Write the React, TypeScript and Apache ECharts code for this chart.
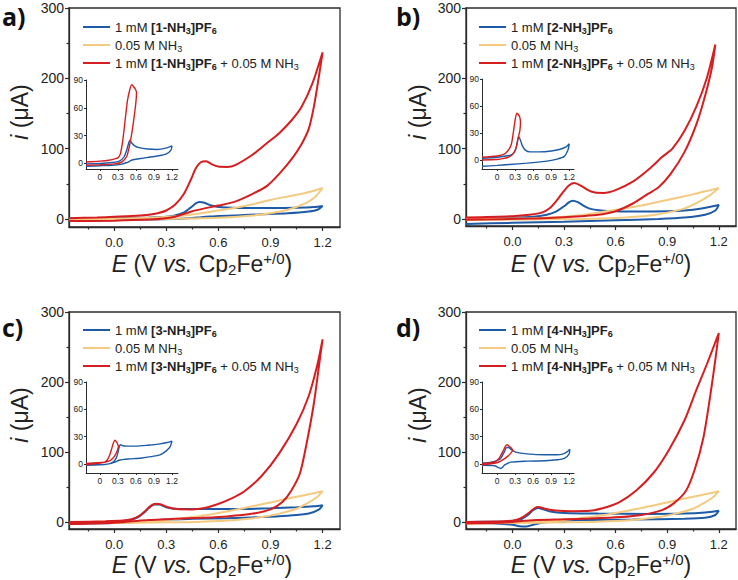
import React, { useEffect, useRef } from 'react';
import * as echarts from 'echarts';

type Pt = [number, number];

const BLUE = '#1e5ba6';
const YELLOW = '#f4ca80';
const RED = '#d61e20';
const AXIS = '#2b2b2b';
const TEXT = '#222222';
const FONT = "'Liberation Sans', Arial, Helvetica, sans-serif";

// Tick positions
const mainXTicks = [0, 0.3, 0.6, 0.9, 1.2];
const mainXMinor = [-0.15, 0.15, 0.45, 0.75, 1.05];
const mainYTicks = [0, 100, 200, 300];
const mainYMinor = [50, 150, 250];
const insetXTicks = [0, 0.3, 0.6, 0.9, 1.2];
const insetYTicks = [0, 30, 60, 90];

const compounds = ['1', '2', '3', '4'];
const panelLetters = ['a)', 'b)', 'c)', 'd)'];

// ---- Cyclic voltammograms: [E (V), i (µA)], anodic sweep then return sweep ----

// [1-NH3]PF6
const cv1Blue: Pt[] = [
  [-0.26, 0.5], [-0.1, 1], [0.1, 1.5], [0.2, 2], [0.3, 3], [0.35, 5], [0.4, 9], [0.44, 16],
  [0.47, 22], [0.49, 24], [0.52, 23], [0.56, 19], [0.62, 16.5], [0.75, 15.5], [0.9, 15.5],
  [1.05, 16], [1.15, 17], [1.2, 18.5],
  [1.17, 13], [1.12, 10.5], [1.0, 8], [0.85, 6.5], [0.7, 5], [0.6, 4], [0.55, 3.5], [0.5, 2.5],
  [0.45, 1.2], [0.35, 0], [0.2, -0.8], [0, -1.5], [-0.26, -2.5],
];
const cv1Yellow: Pt[] = [
  [-0.26, -1.5], [0, -1], [0.2, -0.5], [0.4, 0.5], [0.6, 1.5], [0.8, 5], [0.9, 8], [1.0, 13],
  [1.1, 22], [1.16, 32], [1.2, 44],
  [1.15, 40], [1.1, 37], [1.0, 32], [0.9, 27], [0.8, 21], [0.7, 16], [0.6, 12], [0.5, 8],
  [0.4, 5], [0.3, 3], [0.2, 1.5], [0, 0.5], [-0.26, 0],
];
const cv1Red: Pt[] = [
  [-0.26, 1], [-0.1, 2], [0, 3], [0.1, 4], [0.2, 6], [0.25, 8], [0.3, 12], [0.35, 20],
  [0.4, 35], [0.44, 55], [0.47, 72], [0.5, 81], [0.53, 82], [0.56, 78], [0.6, 74.5],
  [0.65, 74], [0.7, 77], [0.8, 92], [0.88, 108], [0.95, 122], [1.02, 140], [1.08, 160],
  [1.14, 192], [1.2, 237],
  [1.18, 205], [1.15, 160], [1.12, 128], [1.08, 107], [1.03, 88], [0.95, 64], [0.88, 47],
  [0.8, 36], [0.7, 25], [0.6, 19], [0.52, 15], [0.45, 11], [0.4, 7], [0.35, 3], [0.3, 1],
  [0.2, -1], [0, -2.5], [-0.26, -3],
];
const cv1InsetBlue: Pt[] = [
  [-0.23, -0.5], [0, 0], [0.2, 1], [0.3, 2], [0.36, 4], [0.41, 8], [0.45, 15], [0.48, 22],
  [0.5, 25], [0.53, 22], [0.58, 19], [0.65, 17], [0.8, 15.5], [0.95, 15], [1.1, 16.5], [1.2, 19],
  [1.18, 14], [1.1, 10], [0.95, 8], [0.8, 6.5], [0.65, 5], [0.55, 4], [0.5, 2.5], [0.45, 1],
  [0.35, -1], [0.2, -2], [0, -2.5], [-0.23, -3],
];
const cv1InsetRed: Pt[] = [
  [-0.23, 1.5], [0, 2.5], [0.15, 3.5], [0.25, 5], [0.3, 6], [0.34, 10], [0.38, 24], [0.42, 46],
  [0.46, 68], [0.5, 80], [0.53, 85], [0.56, 83], [0.6, 79], [0.61, 76],
  [0.6, 66], [0.57, 50], [0.53, 32], [0.49, 18], [0.45, 8], [0.4, 3.5], [0.35, 1], [0.25, -0.5],
  [0, -1.5], [-0.23, -2],
];

// [2-NH3]PF6
const cv2Blue: Pt[] = [
  [-0.27, 0], [0, 1.5], [0.12, 3], [0.2, 6], [0.25, 10], [0.3, 18], [0.33, 24], [0.35, 26],
  [0.38, 24], [0.42, 18], [0.46, 14], [0.5, 12.5], [0.6, 11], [0.75, 10.5], [0.9, 11],
  [1.0, 12], [1.1, 15], [1.2, 20],
  [1.18, 12], [1.12, 6], [1.0, 2], [0.85, 0], [0.6, -2], [0.3, -4], [0, -5.5], [-0.27, -7],
];
const cv2Yellow: Pt[] = [
  [-0.27, -1.5], [0, -1], [0.2, -0.5], [0.4, 0], [0.6, 1.5], [0.8, 5], [0.9, 9], [1.0, 15],
  [1.08, 24], [1.15, 34], [1.2, 44],
  [1.15, 41], [1.05, 35], [0.9, 27], [0.75, 19], [0.6, 13], [0.45, 7], [0.3, 3], [0.1, 1],
  [-0.27, 0],
];
const cv2Red: Pt[] = [
  [-0.27, 2], [0, 4], [0.1, 6], [0.17, 9], [0.22, 16], [0.26, 27], [0.3, 40], [0.33, 48],
  [0.36, 51], [0.4, 47], [0.44, 41], [0.48, 37.5], [0.53, 37], [0.6, 41], [0.7, 53],
  [0.79, 70], [0.87, 88], [0.93, 100], [1.0, 125], [1.07, 160], [1.13, 200], [1.18, 248],
  [1.16, 215], [1.12, 175], [1.07, 135], [1.0, 95], [0.92, 64], [0.85, 45], [0.79, 36],
  [0.7, 22], [0.6, 11], [0.5, 6], [0.4, 4], [0.3, 2.5], [0.1, 0.5], [-0.27, -1],
];
const cv2InsetBlue: Pt[] = [
  [-0.25, 2], [0, 3], [0.15, 4.5], [0.25, 6], [0.31, 12], [0.34, 21], [0.36, 26], [0.39, 22],
  [0.42, 16], [0.47, 11], [0.55, 9], [0.7, 9], [0.9, 10], [1.05, 12], [1.15, 14.5], [1.2, 18],
  [1.18, 11], [1.12, 4], [1.0, 1], [0.8, -1.5], [0.5, -3.5], [0.2, -5], [0, -6], [-0.25, -7],
];
const cv2InsetRed: Pt[] = [
  [-0.25, 3], [0, 4.5], [0.1, 6], [0.15, 8], [0.2, 12], [0.24, 18], [0.27, 30], [0.3, 44],
  [0.33, 52], [0.36, 50], [0.38, 47], [0.39, 42],
  [0.38, 33], [0.35, 24], [0.32, 14], [0.28, 8], [0.2, 3.5], [0.1, 1.5], [0, 0.5], [-0.25, 0],
];

// [3-NH3]PF6
const cv3Blue: Pt[] = [
  [-0.26, -1.5], [0, 0], [0.08, 2], [0.13, 6], [0.17, 13], [0.2, 20], [0.23, 25], [0.26, 25],
  [0.3, 21], [0.35, 19], [0.5, 18.5], [0.7, 18.5], [0.9, 19.5], [1.05, 21], [1.15, 22.5],
  [1.2, 24],
  [1.18, 18], [1.12, 12], [1.0, 9], [0.85, 7], [0.65, 5.5], [0.45, 4.5], [0.3, 3.5],
  [0.22, 2], [0.15, 0.5], [0, -1.5], [-0.26, -2.5],
];
const cv3Yellow: Pt[] = [
  [-0.26, -2], [0, -1.5], [0.3, -0.5], [0.5, 0.5], [0.7, 3], [0.85, 7], [0.95, 12], [1.05, 19],
  [1.12, 28], [1.17, 36], [1.2, 44],
  [1.15, 41], [1.05, 36], [0.9, 28], [0.75, 20], [0.6, 13], [0.45, 7], [0.3, 3], [0.1, 0.5],
  [-0.26, -1],
];
const cv3Red: Pt[] = [
  [-0.26, 0], [-0.05, 1], [0.05, 2], [0.1, 4], [0.14, 8], [0.18, 16], [0.21, 23], [0.24, 26],
  [0.27, 25], [0.31, 21], [0.36, 18.5], [0.45, 18], [0.52, 20], [0.59, 25], [0.67, 33],
  [0.75, 44], [0.85, 66], [0.95, 98], [1.05, 140], [1.12, 180], [1.17, 225], [1.2, 261],
  [1.18, 225], [1.15, 170], [1.11, 115], [1.07, 70], [1.02, 45], [0.97, 29], [0.9, 18],
  [0.8, 12], [0.65, 8], [0.5, 6], [0.35, 4.5], [0.2, 3], [0.1, 1], [0, -1], [-0.26, -3],
];
const cv3InsetBlue: Pt[] = [
  [-0.23, -1], [0, -1], [0.15, 0], [0.22, 2], [0.27, 6], [0.3, 12], [0.32, 18], [0.34, 21],
  [0.38, 20], [0.45, 19.5], [0.6, 19.5], [0.8, 20.5], [1.0, 22], [1.12, 23.5], [1.2, 25],
  [1.17, 19], [1.1, 14], [1.0, 10], [0.85, 8], [0.7, 6.5], [0.5, 5.5], [0.4, 5], [0.32, 4],
  [0.25, 2], [0.15, 0], [0, -1], [-0.23, -1.5],
];
const cv3InsetRed: Pt[] = [
  [-0.23, 0.5], [0, 1.5], [0.08, 2], [0.12, 4], [0.16, 9], [0.19, 15], [0.22, 22], [0.25, 26],
  [0.28, 24], [0.3, 21], [0.31, 19],
  [0.28, 13], [0.25, 9], [0.2, 5], [0.15, 3], [0.05, 1.5], [-0.1, 0], [-0.23, -1],
];

// [4-NH3]PF6
const cv4Blue: Pt[] = [
  [-0.27, 0], [-0.1, 0.5], [0, 1.5], [0.05, 4], [0.09, 10], [0.12, 17], [0.15, 20], [0.18, 18],
  [0.22, 15], [0.3, 13], [0.5, 12], [0.8, 11.5], [1.0, 12], [1.12, 13.5], [1.2, 16],
  [1.18, 10], [1.12, 6], [1.0, 4.5], [0.7, 3.5], [0.4, 3], [0.25, 1.5], [0.17, -1], [0.12, -4],
  [0.08, -6.5], [0.04, -6], [0, -4], [-0.1, -2], [-0.27, -1],
];
const cv4Yellow: Pt[] = [
  [-0.27, -2], [0, -1.5], [0.3, -0.5], [0.5, 0.5], [0.7, 3], [0.85, 7], [0.95, 12], [1.05, 19],
  [1.12, 28], [1.17, 36], [1.2, 44],
  [1.15, 41], [1.05, 36], [0.9, 28], [0.75, 20], [0.6, 13], [0.45, 7], [0.3, 3], [0.1, 0.5],
  [-0.27, -1],
];
const cv4Red: Pt[] = [
  [-0.27, 0], [-0.05, 1], [0.02, 3], [0.06, 7], [0.1, 14], [0.13, 20], [0.15, 21.5],
  [0.19, 19], [0.25, 16.5], [0.35, 15.5], [0.45, 16], [0.53, 20], [0.62, 28], [0.72, 45],
  [0.82, 70], [0.91, 103], [1.0, 145], [1.07, 189], [1.13, 225], [1.2, 270],
  [1.18, 232], [1.15, 180], [1.11, 120], [1.06, 75], [1.01, 45], [0.94, 27], [0.87, 17],
  [0.75, 10], [0.63, 7], [0.45, 5], [0.3, 4], [0.14, 3], [0.05, 1.5], [0, 0], [-0.1, -1.5],
  [-0.27, -2],
];
const cv4InsetBlue: Pt[] = [
  [-0.25, 1], [-0.1, 2], [0, 3.5], [0.06, 6], [0.12, 13], [0.16, 18], [0.19, 18], [0.23, 16],
  [0.31, 13], [0.5, 11], [0.8, 10], [1.0, 10], [1.1, 11], [1.17, 13.5], [1.21, 16],
  [1.2, 11], [1.12, 6], [1.0, 4.5], [0.8, 3.5], [0.5, 3], [0.23, 2], [0.16, 0], [0.12, -1.5],
  [0.09, -4], [0.06, -5], [0.02, -4], [-0.04, -2], [-0.25, -1.5],
];
const cv4InsetRed: Pt[] = [
  [-0.25, 0.5], [-0.05, 2], [0.02, 5], [0.06, 9], [0.1, 14], [0.14, 19.5], [0.17, 21],
  [0.2, 19.5], [0.23, 18], [0.26, 15],
  [0.22, 11], [0.17, 8], [0.12, 5.5], [0.06, 3], [0.01, 1.5], [-0.1, 0], [-0.25, -1],
];

const mainBlue = [cv1Blue, cv2Blue, cv3Blue, cv4Blue];
const mainYellow = [cv1Yellow, cv2Yellow, cv3Yellow, cv4Yellow];
const mainRed = [cv1Red, cv2Red, cv3Red, cv4Red];
const insetBlue = [cv1InsetBlue, cv2InsetBlue, cv3InsetBlue, cv4InsetBlue];
const insetRed = [cv1InsetRed, cv2InsetRed, cv3InsetRed, cv4InsetRed];

// Panel geometry (pixels) and axis windows
const layouts = [
  {
    main: { left: 69, top: 8, width: 271, height: 219 }, xMin: -0.26, yMin: -11.5,
    inset: { left: 86, top: 80, width: 92, height: 89 }, ixMin: -0.23, ixMax: 1.3, iyMin: -6,
    legend: { left: 83, top: 19 }, letter: [2, 16], xTitle: [202, 264], yTitle: [20, 112],
  },
  {
    main: { left: 466, top: 8, width: 270, height: 218 }, xMin: -0.27, yMin: -10,
    inset: { left: 482, top: 79, width: 92, height: 90 }, ixMin: -0.25, ixMax: 1.28, iyMin: -10,
    legend: { left: 479, top: 19 }, letter: [396, 16], xTitle: [601, 264], yTitle: [418, 112],
  },
  {
    main: { left: 69, top: 312, width: 271, height: 217 }, xMin: -0.26, yMin: -10,
    inset: { left: 86, top: 382, width: 92, height: 91 }, ixMin: -0.23, ixMax: 1.3, iyMin: -10,
    legend: { left: 83, top: 322 }, letter: [2, 327], xTitle: [202, 565], yTitle: [20, 415],
  },
  {
    main: { left: 466, top: 312, width: 270, height: 217 }, xMin: -0.27, yMin: -10,
    inset: { left: 482, top: 382, width: 92, height: 91 }, ixMin: -0.25, ixMax: 1.28, iyMin: -10,
    legend: { left: 479, top: 322 }, letter: [396, 327], xTitle: [601, 565], yTitle: [418, 415],
  },
];

const legendRich = {
  b: { fontWeight: 'bold', fontSize: 13, lineHeight: 16, fontFamily: FONT, color: TEXT },
  s: { fontSize: 9, lineHeight: 8, verticalAlign: 'bottom', fontFamily: FONT, color: TEXT },
  bs: { fontSize: 9, fontWeight: 'bold', lineHeight: 8, verticalAlign: 'bottom', fontFamily: FONT, color: TEXT },
};

const titleRich = {
  i: { fontStyle: 'italic', fontSize: 23, lineHeight: 26, fontFamily: FONT, fill: TEXT },
  sub: { fontSize: 15, lineHeight: 13, verticalAlign: 'bottom', fontFamily: FONT, fill: TEXT },
  sup: { fontSize: 15, lineHeight: 12, verticalAlign: 'top', fontFamily: FONT, fill: TEXT },
};

function buildOption() {
  const grid: any[] = [];
  const xAxis: any[] = [];
  const yAxis: any[] = [];
  const series: any[] = [];
  const legend: any[] = [];
  const graphic: any[] = [];

  const tickStyle = { color: AXIS, width: 1.2 };

  layouts.forEach((L, k) => {
    const n = compounds[k];
    const nameBlue = `1 mM [${n}-NH3]PF6`;
    const nameYellow = '0.05 M NH3';
    const nameRed = `1 mM [${n}-NH3]PF6 + 0.05 M NH3`;
    const richNames: Record<string, string> = {
      [nameBlue]: `1 mM {b|[${n}-NH}{bs|3}{b|]PF}{bs|6}`,
      [nameYellow]: '0.05 M NH{s|3}',
      [nameRed]: `1 mM {b|[${n}-NH}{bs|3}{b|]PF}{bs|6} + 0.05 M NH{s|3}`,
    };

    // main plot frame
    const gMain = grid.length;
    grid.push({
      ...L.main, show: true, borderColor: AXIS, borderWidth: 1.3,
      backgroundColor: 'transparent', containLabel: false, outerBoundsMode: 'none',
    });
    const gInset = grid.length;
    grid.push({ ...L.inset, show: false, containLabel: false, outerBoundsMode: 'none' });

    const xMain = xAxis.length;
    xAxis.push({
      type: 'value', gridIndex: gMain, position: 'bottom', min: L.xMin, max: 1.3,
      axisLine: { show: true, onZero: false, lineStyle: { color: AXIS, width: 1.3 } },
      axisTick: { show: true, inside: false, length: 4, customValues: mainXTicks, lineStyle: tickStyle },
      axisLabel: {
        show: true, customValues: mainXTicks, formatter: (v: number) => v.toFixed(1),
        fontSize: 13, color: TEXT, fontFamily: FONT, margin: 9,
      },
      splitLine: { show: false },
    });
    xAxis.push({
      type: 'value', gridIndex: gMain, position: 'bottom', min: L.xMin, max: 1.3,
      axisLine: { show: false, onZero: false },
      axisTick: { show: true, inside: false, length: 2.5, customValues: mainXMinor, lineStyle: tickStyle },
      axisLabel: { show: false },
      splitLine: { show: false },
    });
    const yMain = yAxis.length;
    yAxis.push({
      type: 'value', gridIndex: gMain, position: 'left', min: L.yMin, max: 300,
      axisLine: { show: true, onZero: false, lineStyle: { color: AXIS, width: 1.3 } },
      axisTick: { show: true, inside: false, length: 4, customValues: mainYTicks, lineStyle: tickStyle },
      axisLabel: {
        show: true, customValues: mainYTicks, formatter: (v: number) => String(v),
        fontSize: 14, color: TEXT, fontFamily: FONT, margin: 5,
      },
      splitLine: { show: false },
    });
    yAxis.push({
      type: 'value', gridIndex: gMain, position: 'left', min: L.yMin, max: 300,
      axisLine: { show: false, onZero: false },
      axisTick: { show: true, inside: false, length: 2.5, customValues: mainYMinor, lineStyle: tickStyle },
      axisLabel: { show: false },
      splitLine: { show: false },
    });

    // inset axes
    const xIn = xAxis.length;
    xAxis.push({
      type: 'value', gridIndex: gInset, position: 'bottom', min: L.ixMin, max: L.ixMax,
      axisLine: { show: true, onZero: false, lineStyle: { color: AXIS, width: 1 } },
      axisTick: { show: true, inside: false, length: 2, customValues: insetXTicks, lineStyle: { color: AXIS, width: 1 } },
      axisLabel: {
        show: true, customValues: insetXTicks,
        formatter: (v: number) => (v === 0 ? '0' : v.toFixed(1)),
        fontSize: 8.5, color: TEXT, fontFamily: FONT, margin: 3,
      },
      splitLine: { show: false },
    });
    const yIn = yAxis.length;
    yAxis.push({
      type: 'value', gridIndex: gInset, position: 'left', min: L.iyMin, max: 90,
      axisLine: { show: true, onZero: false, lineStyle: { color: AXIS, width: 1 } },
      axisTick: { show: true, inside: false, length: 2, customValues: insetYTicks, lineStyle: { color: AXIS, width: 1 } },
      axisLabel: {
        show: true, customValues: insetYTicks, formatter: (v: number) => String(v),
        fontSize: 8.5, color: TEXT, fontFamily: FONT, margin: 3,
      },
      splitLine: { show: false },
    });

    const line = (name: string, data: Pt[], color: string, xi: number, yi: number, width: number) => ({
      type: 'line', name, data, xAxisIndex: xi, yAxisIndex: yi, symbol: 'none', smooth: 0.25,
      lineStyle: { color, width }, itemStyle: { color }, clip: true, silent: true,
    });

    series.push(line(nameBlue, mainBlue[k], BLUE, xMain, yMain, 2));
    series.push(line(nameYellow, mainYellow[k], YELLOW, xMain, yMain, 2));
    series.push(line(nameRed, mainRed[k], RED, xMain, yMain, 2));
    series.push(line(`inset ${n} blue`, insetBlue[k], BLUE, xIn, yIn, 1.4));
    series.push(line(`inset ${n} red`, insetRed[k], RED, xIn, yIn, 1.4));

    legend.push({
      data: [nameBlue, nameYellow, nameRed], orient: 'vertical', left: L.legend.left, top: L.legend.top,
      padding: 0, itemWidth: 27, itemHeight: 2, itemGap: 2, icon: 'rect', selectedMode: false,
      formatter: (nm: string) => richNames[nm] ?? nm,
      textStyle: { fontSize: 13, lineHeight: 16, color: TEXT, fontFamily: FONT, rich: legendRich },
    });

    graphic.push({
      type: 'text', x: L.letter[0], y: L.letter[1], silent: true,
      style: {
        text: panelLetters[k], fontSize: 25, fontWeight: 'bold', fontFamily: "'Open Sans', " + FONT,
        fill: '#111', textAlign: 'left', textVerticalAlign: 'middle',
      },
    });
    graphic.push({
      type: 'text', x: L.xTitle[0], y: L.xTitle[1], silent: true,
      style: {
        text: '{i|E} (V {i|vs.} Cp{sub|2}Fe{sup|+/0})', fontSize: 23, lineHeight: 26,
        fontFamily: FONT, fill: TEXT, textAlign: 'center', textVerticalAlign: 'middle', rich: titleRich,
      },
    });
    graphic.push({
      type: 'text', x: L.yTitle[0], y: L.yTitle[1], rotation: Math.PI / 2, silent: true,
      style: {
        text: '{i|i} (μA)', fontSize: 23, lineHeight: 26,
        fontFamily: FONT, fill: TEXT, textAlign: 'center', textVerticalAlign: 'middle', rich: titleRich,
      },
    });
  });

  return {
    animation: false,
    backgroundColor: '#ffffff',
    textStyle: { fontFamily: FONT },
    grid, xAxis, yAxis, series, legend, graphic,
  };
}

export default function App() {
  const ref = useRef<HTMLDivElement>(null);
  useEffect(() => {
    if (!ref.current) return;
    const chart = echarts.init(ref.current, undefined, { renderer: 'svg' });
    chart.setOption(buildOption() as any);
    return () => chart.dispose();
  }, []);
  return (
    <div
      ref={ref}
      style={{ position: 'absolute', left: 0, top: 0, width: 738, height: 580, background: '#fff' }}
    />
  );
}
